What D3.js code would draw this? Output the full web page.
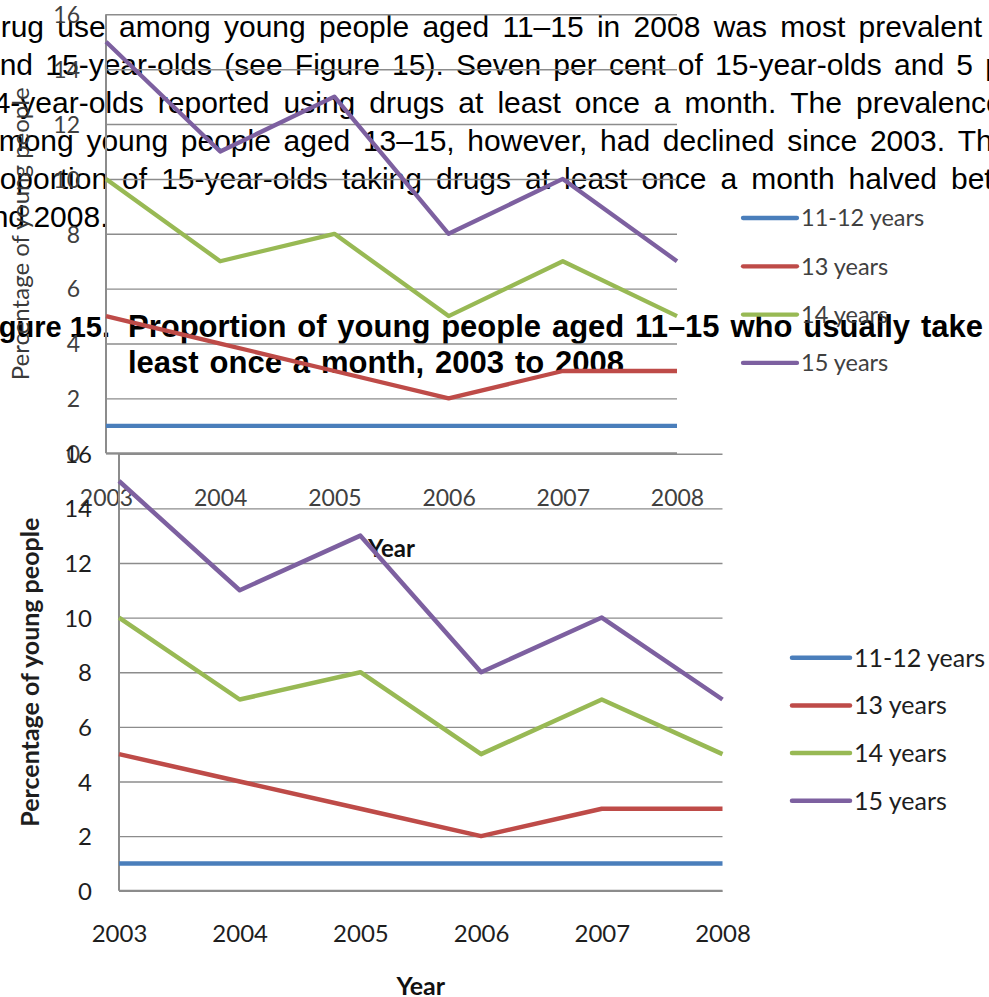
<!DOCTYPE html>
<html><head><meta charset="utf-8">
<script src="https://cdn.jsdelivr.net/npm/d3@7"></script>
<style>
html,body{margin:0;padding:0;background:#fff;overflow:hidden}
svg{display:block}
</style></head><body>
<svg id="page" width="989" height="997"></svg>
<script>
// ---- data ----
const years = ["2003", "2004", "2005", "2006", "2007", "2008"];
const seriesNames = ["11-12 years", "13 years", "14 years", "15 years"];
const age11to12 = [1, 1, 1, 1, 1, 1];
const age13 = [5, 4, 3, 2, 3, 3];
const age14 = [10, 7, 8, 5, 7, 5];
const age15 = [15, 11, 13, 8, 10, 7];
const yTicks = [0, 2, 4, 6, 8, 10, 12, 14, 16];
const seriesColors = ["#4a7ebb", "#be4b48", "#98b954", "#7d60a0"];

const paragraphLines = [
  "Drug use among young people aged 11–15 in 2008 was most prevalent among 14-",
  "and 15-year-olds (see Figure 15). Seven per cent of 15-year-olds and 5 per cent of",
  "14-year-olds reported using drugs at least once a month. The prevalence of drug use",
  "among young people aged 13–15, however, had declined since 2003. The",
  "proportion of 15-year-olds taking drugs at least once a month halved between 2003",
  "and 2008."
];
const figureNumber = "Figure 15.";
const titleLines = [
  "Proportion of young people aged 11–15 who usually take drugs at",
  "least once a month, 2003 to 2008"
];
const yAxisTitle = "Percentage of young people";
const xAxisTitle = "Year";

const seriesValues = [age11to12, age13, age14, age15];

const svg = d3.select("#page");
const serif = "Liberation Sans, Arial, sans-serif";

// ---- justified body text, laid out word by word ----
// the first fitWords words are spread so the last of them ends at fitX
function justifiedLine(parent, text, x0, baseline, fs, weight, fitWords, fitX) {
  const words = text.split(" ");
  const probe = parent.append("text").attr("font-family", serif)
    .attr("font-size", fs).attr("font-weight", weight);
  const widthOf = s => { probe.text(s); return probe.node().getComputedTextLength(); };
  const wWidths = words.map(widthOf);
  const space = widthOf("a a") - widthOf("aa");
  probe.remove();
  let extra = 0;
  if (fitWords && fitWords > 1) {
    const natural = d3.sum(wWidths.slice(0, fitWords)) + space * (fitWords - 1);
    extra = (fitX - x0 - natural) / (fitWords - 1);
  }
  const t = parent.append("text").attr("font-family", serif)
    .attr("font-size", fs).attr("font-weight", weight).attr("fill", "#000").attr("y", baseline);
  let cx = x0;
  words.forEach((w, i) => {
    t.append("tspan").attr("x", cx).text(w);
    cx += wWidths[i] + space + extra;
  });
}

const textLayer = svg.append("g");
// [left edge, words to spread, right edge of last spread word]
const paraLayout = [[-21, 12, 982], [-17, 12, 973], [-23, 10, 842], [-18, 10, 945], [-27, 11, 937], [-25, 0, 0]];
paragraphLines.forEach((line, i) => {
  const [x0, n, fx] = paraLayout[i];
  justifiedLine(textLayer, line, x0, 36.5 + i * 38, 30, "normal", n, fx);
});
textLayer.append("text").attr("x", 110).attr("y", 337)
  .attr("text-anchor", "end").attr("font-family", serif)
  .attr("font-size", 29).attr("font-weight", "bold").text(figureNumber);
justifiedLine(textLayer, titleLines[0], 128, 337, 31, "bold", 9, 983);
justifiedLine(textLayer, titleLines[1], 128, 373, 31, "bold", 7, 624);

// ---- line chart ----
function drawChart(o) {
  const g = svg.append("g");
  const x = d3.scalePoint().domain(years).range([o.left, o.right]).padding(0);
  const y = d3.scaleLinear().domain([0, 16]).range([o.bottom, o.top]);
  const font = "Lato, 'Open Sans', sans-serif";

  const ya = g.append("g").attr("transform", `translate(${o.left},0)`)
    .call(d3.axisLeft(y).tickValues(yTicks).tickSize(-(o.right - o.left)).tickPadding(o.tickGap).tickFormat(d3.format("d")));
  ya.select(".domain").remove();
  ya.selectAll(".tick line").attr("stroke", "#8c8c8c").attr("stroke-width", 1.4);
  ya.selectAll(".tick text").attr("font-family", font).attr("font-size", o.fs)
    .attr("fill", o.ink).attr("dy", "0.36em");

  const xa = g.append("g").attr("transform", `translate(0,${o.bottom})`)
    .call(d3.axisBottom(x).tickSize(0));
  xa.select(".domain").remove();
  xa.selectAll(".tick text").attr("y", o.xGap).attr("dy", "0.36em")
    .attr("font-family", font).attr("font-size", o.fs).attr("fill", o.ink);

  // axis lines
  g.append("line").attr("x1", o.left).attr("x2", o.left).attr("y1", o.top).attr("y2", o.bottom)
    .attr("stroke", "#8c8c8c").attr("stroke-width", 2);
  g.append("line").attr("x1", o.left).attr("x2", o.right).attr("y1", o.bottom).attr("y2", o.bottom)
    .attr("stroke", "#8c8c8c").attr("stroke-width", 2);

  const line = d3.line().x((d, i) => x(years[i])).y(d => y(d));
  seriesValues.forEach((vals, k) => {
    g.append("path").datum(vals).attr("d", line).attr("fill", "none")
      .attr("stroke", seriesColors[k]).attr("stroke-width", o.lw)
      .attr("stroke-linejoin", "round");
  });

  g.append("text").attr("x", (o.left + o.right) / 2).attr("y", o.bottom + o.titleGap).attr("dy", "0.36em")
    .attr("text-anchor", "middle").attr("font-family", font).attr("font-size", o.titleFs)
    .attr("font-weight", "bold").attr("fill", "#111").text(xAxisTitle);
  g.append("text")
    .attr("transform", `translate(${o.left - o.yTitleGap},${(o.top + o.bottom) / 2}) rotate(-90)`)
    .attr("dy", "0.36em").attr("text-anchor", "middle").attr("font-family", font)
    .attr("font-size", o.titleFs).attr("font-weight", o.yTitleWeight).attr("fill", o.yTitleInk).text(yAxisTitle);

  const leg = g.append("g");
  seriesNames.forEach((name, k) => {
    const ly = o.legTop + k * o.legStep;
    leg.append("line").attr("x1", o.legX).attr("x2", o.legX + o.legLen).attr("y1", ly).attr("y2", ly)
      .attr("stroke", seriesColors[k]).attr("stroke-width", o.lw).attr("stroke-linecap", "round");
    leg.append("text").attr("x", o.legX + o.legLen + 4).attr("y", ly).attr("dy", "0.36em")
      .attr("font-family", font).attr("font-size", o.legFs).attr("fill", o.ink).text(name);
  });
}

// upper copy
drawChart({
  left: 106, right: 677, top: 14.3, bottom: 453.3,
  fs: 23, titleFs: 24, legFs: 23.5, ink: "#404040", tickGap: 26, xGap: 44, titleGap: 95, yTitleGap: 86,
  yTitleWeight: "normal", yTitleInk: "#3a3a3a", lw: 4.3,
  legX: 743, legLen: 54, legTop: 218, legStep: 48.3
});
// lower copy
drawChart({
  left: 119, right: 722.5, top: 453.7, bottom: 890.7,
  fs: 24, titleFs: 25, legFs: 25, ink: "#1e1e1e", tickGap: 27, xGap: 43, titleGap: 95, yTitleGap: 89,
  yTitleWeight: "bold", yTitleInk: "#1e1e1e", lw: 4.5,
  legX: 792, legLen: 58, legTop: 657.7, legStep: 47.7
});
</script>
</body></html>
